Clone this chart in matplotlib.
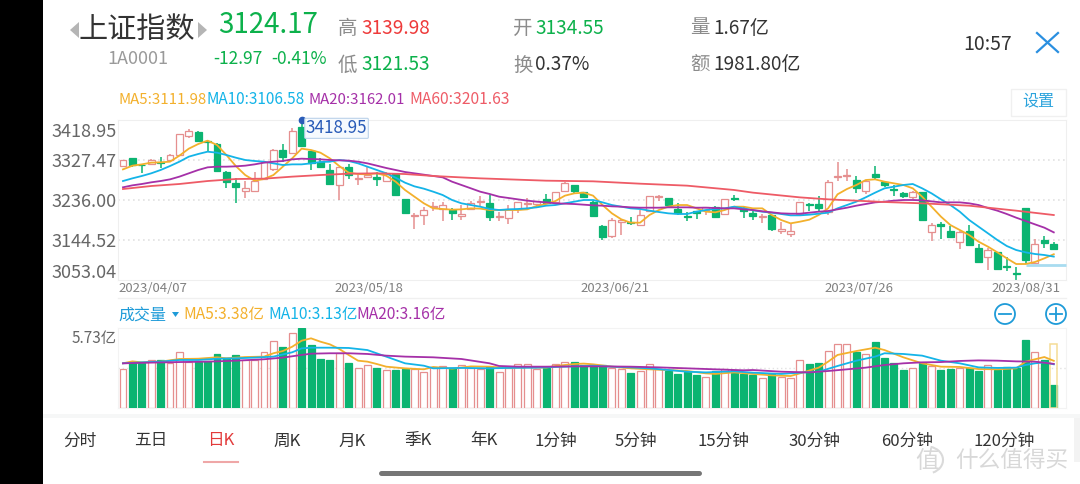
import matplotlib
matplotlib.use("Agg")
import matplotlib.pyplot as plt
from matplotlib.patches import Rectangle, Circle, Arc, Polygon

plt.rcParams['font.family'] = ['Noto Sans CJK SC', 'DejaVu Sans']

# precios, una vela por dia
opens = [3314.5, 3331.3, 3316.8, 3318.3, 3322.1, 3327.5, 3338.9, 3382.3, 3391.5, 3370.9,
         3364.8, 3300.8, 3275.6, 3255.8, 3257.3, 3284.0, 3307.6, 3350.3, 3342.7, 3402.2,
         3347.3, 3322.9, 3303.8, 3271.0, 3310.7, 3284.8, 3288.6, 3287.8, 3280.2, 3295.4,
         3238.3, 3200.2, 3200.9, 3220.7, 3216.2, 3213.1, 3198.6, 3215.4, 3232.2, 3228.4,
         3197.9, 3195.6, 3215.4, 3226.8, 3226.1, 3237.5, 3230.6, 3257.3, 3271.0, 3253.5,
         3230.6, 3177.3, 3153.7, 3185.7, 3184.9, 3179.6, 3211.6, 3242.1, 3239.8, 3215.4,
         3199.4, 3210.1, 3213.9, 3219.2, 3204.0, 3240.6, 3216.2, 3205.5, 3197.9, 3200.9,
         3165.9, 3158.2, 3204.0, 3227.6, 3226.1, 3209.3, 3289.3, 3290.9, 3281.7, 3255.8,
         3295.4, 3276.4, 3261.1, 3251.2, 3242.8, 3253.5, 3162.0, 3180.3, 3165.1, 3139.9,
         3165.1, 3126.2, 3104.9, 3116.3, 3085.1, 3068.3, 3218.4, 3092.7, 3144.5, 3134.55]
closes = [3327.5, 3316.0, 3315.3, 3326.7, 3319.8, 3338.1, 3386.2, 3393.8, 3371.7, 3369.4,
          3302.3, 3277.1, 3265.7, 3264.2, 3279.4, 3322.1, 3350.3, 3335.1, 3394.5, 3359.5,
          3319.8, 3310.7, 3273.3, 3310.7, 3292.4, 3286.3, 3293.1, 3284.8, 3295.4, 3247.4,
          3205.5, 3201.7, 3213.1, 3222.3, 3223.8, 3205.5, 3204.7, 3229.9, 3233.7, 3196.3,
          3199.4, 3214.6, 3230.6, 3229.1, 3233.7, 3229.9, 3253.5, 3274.1, 3257.3, 3242.1,
          3199.4, 3151.4, 3190.3, 3189.5, 3182.6, 3202.4, 3245.1, 3245.9, 3223.8, 3206.3,
          3197.9, 3205.5, 3220.7, 3197.9, 3237.5, 3239.0, 3211.6, 3199.4, 3199.4, 3170.4,
          3168.9, 3164.3, 3232.2, 3223.8, 3217.7, 3276.4, 3291.6, 3292.4, 3262.7, 3280.2,
          3287.8, 3270.3, 3259.6, 3245.1, 3254.3, 3190.3, 3179.6, 3177.3, 3151.4, 3163.6,
          3133.1, 3094.2, 3120.9, 3078.9, 3083.5, 3066.0, 3099.5, 3136.1, 3138.4, 3124.17]
highs = [3327.5, 3331.3, 3316.8, 3329.7, 3333.6, 3340.4, 3386.2, 3397.6, 3393.0, 3370.9,
         3367.1, 3302.3, 3287.0, 3279.4, 3300.0, 3323.6, 3351.8, 3364.0, 3399.9, 3418.95,
         3348.8, 3332.8, 3317.5, 3310.7, 3317.5, 3298.5, 3314.5, 3300.8, 3300.8, 3297.0,
         3238.3, 3207.0, 3220.7, 3232.2, 3230.6, 3216.9, 3224.5, 3233.7, 3245.1, 3246.7,
         3209.3, 3224.5, 3230.6, 3239.8, 3233.7, 3249.0, 3253.5, 3277.9, 3271.0, 3255.0,
         3233.7, 3178.8, 3194.1, 3191.8, 3196.3, 3213.1, 3245.1, 3247.4, 3239.8, 3228.4,
         3207.8, 3211.6, 3220.7, 3223.0, 3237.5, 3246.7, 3220.7, 3211.6, 3204.0, 3200.9,
         3186.4, 3181.1, 3232.2, 3229.9, 3245.9, 3281.7, 3322.1, 3306.1, 3290.9, 3281.7,
         3314.5, 3277.9, 3270.3, 3255.0, 3257.3, 3255.0, 3182.6, 3186.4, 3175.8, 3165.9,
         3178.8, 3134.6, 3125.4, 3117.8, 3106.4, 3083.5, 3218.4, 3146.0, 3152.9, 3139.98]
lows = [3312.2, 3310.7, 3298.5, 3316.0, 3308.4, 3323.6, 3336.6, 3377.0, 3367.9, 3346.5,
        3300.8, 3264.2, 3229.9, 3241.3, 3255.0, 3281.7, 3302.3, 3323.6, 3341.2, 3356.4,
        3304.6, 3308.4, 3270.3, 3236.0, 3283.2, 3270.3, 3285.5, 3268.0, 3277.9, 3245.9,
        3204.0, 3168.9, 3178.8, 3210.8, 3188.0, 3190.3, 3190.3, 3213.1, 3222.3, 3188.7,
        3188.0, 3181.1, 3207.0, 3216.9, 3223.0, 3228.4, 3228.4, 3255.0, 3251.2, 3239.8,
        3197.9, 3144.5, 3148.3, 3155.9, 3178.8, 3178.0, 3209.3, 3234.5, 3223.0, 3201.7,
        3188.7, 3192.5, 3200.9, 3194.1, 3202.4, 3232.9, 3195.6, 3190.3, 3182.6, 3165.9,
        3157.5, 3152.1, 3201.7, 3211.6, 3210.8, 3201.7, 3280.2, 3280.2, 3252.8, 3249.0,
        3284.0, 3266.5, 3245.9, 3239.8, 3237.5, 3190.3, 3142.2, 3146.8, 3150.6, 3123.9,
        3131.6, 3092.7, 3075.9, 3077.4, 3073.6, 3053.04, 3089.6, 3089.6, 3127.0, 3121.53]

ma5 = [3306.0, 3314.5, 3317.5, 3321.4, 3322.1, 3323.6, 3337.4, 3353.4, 3364.0, 3371.7,
       3361.8, 3338.9, 3313.7, 3293.1, 3280.2, 3284.0, 3293.1, 3312.2, 3331.3, 3353.4,
       3350.3, 3344.2, 3331.3, 3313.7, 3298.5, 3295.4, 3294.7, 3297.0, 3291.6, 3277.9,
       3258.8, 3243.6, 3228.4, 3216.9, 3215.4, 3213.9, 3214.6, 3216.9, 3216.2, 3213.1,
       3213.1, 3213.1, 3213.1, 3214.6, 3222.3, 3226.8, 3233.7, 3245.9, 3251.2, 3252.8,
       3245.9, 3224.5, 3205.5, 3191.8, 3184.1, 3184.1, 3201.7, 3213.1, 3220.7, 3224.5,
       3224.5, 3216.9, 3209.3, 3207.8, 3213.1, 3220.7, 3220.7, 3216.9, 3216.9, 3201.7,
       3190.3, 3182.6, 3186.4, 3191.0, 3201.7, 3216.9, 3249.0, 3261.1, 3270.3, 3281.7,
       3283.2, 3277.9, 3274.1, 3270.3, 3262.7, 3243.6, 3220.7, 3197.9, 3178.8, 3167.4,
       3155.9, 3140.7, 3129.3, 3116.3, 3102.6, 3089.6, 3089.6, 3094.2, 3102.6, 3111.98]
ma10 = [3279.4, 3285.5, 3290.9, 3297.0, 3304.6, 3313.7, 3323.6, 3335.1, 3341.2, 3346.5,
        3344.2, 3338.9, 3332.8, 3327.5, 3325.2, 3323.6, 3319.8, 3316.0, 3317.5, 3317.5,
        3319.8, 3322.9, 3323.6, 3327.5, 3325.2, 3319.8, 3312.2, 3304.6, 3297.0, 3287.0,
        3275.6, 3267.2, 3261.9, 3255.0, 3247.4, 3236.0, 3228.4, 3224.5, 3220.7, 3215.4,
        3213.1, 3214.6, 3215.4, 3216.9, 3219.2, 3223.0, 3224.5, 3228.4, 3232.2, 3236.0,
        3236.0, 3230.6, 3224.5, 3220.7, 3216.9, 3215.4, 3211.6, 3208.5, 3205.5, 3204.0,
        3204.0, 3209.3, 3213.1, 3215.4, 3216.9, 3220.7, 3216.9, 3212.4, 3209.3, 3207.0,
        3204.0, 3200.9, 3200.9, 3202.4, 3204.7, 3207.0, 3216.9, 3224.5, 3232.2, 3242.1,
        3252.8, 3262.7, 3266.5, 3270.3, 3272.6, 3262.7, 3251.2, 3237.5, 3224.5, 3209.3,
        3190.3, 3175.0, 3159.8, 3144.5, 3130.8, 3121.6, 3116.3, 3112.5, 3110.2, 3106.58]
ma20 = [3265.0, 3269.5, 3272.6, 3276.4, 3279.4, 3283.2, 3289.4, 3297.0, 3304.6, 3310.7,
        3312.2, 3312.2, 3313.0, 3314.5, 3317.5, 3321.4, 3323.6, 3325.2, 3329.0, 3330.5,
        3329.7, 3329.0, 3327.5, 3326.7, 3326.0, 3323.6, 3319.8, 3314.5, 3309.2, 3304.6,
        3300.0, 3297.0, 3293.9, 3290.9, 3287.8, 3277.9, 3270.3, 3262.7, 3255.0, 3249.7,
        3243.6, 3240.6, 3237.5, 3234.5, 3232.2, 3230.6, 3228.4, 3227.6, 3226.8, 3225.3,
        3223.8, 3223.0, 3221.5, 3220.7, 3219.2, 3218.4, 3218.4, 3218.4, 3219.2, 3219.2,
        3219.2, 3218.4, 3218.4, 3217.7, 3216.9, 3216.9, 3214.6, 3213.1, 3210.1, 3207.8,
        3205.5, 3204.7, 3204.7, 3207.0, 3209.3, 3210.8, 3214.6, 3218.4, 3223.0, 3226.8,
        3230.6, 3232.2, 3234.5, 3236.0, 3236.0, 3235.2, 3232.9, 3230.6, 3230.6, 3230.6,
        3228.4, 3224.5, 3217.7, 3211.6, 3204.0, 3195.6, 3188.0, 3180.3, 3172.7, 3162.01]
ma60_dias = [0, 3, 6, 9, 12, 15, 18, 21, 24, 27, 30, 33, 38, 45, 50, 55, 60, 65, 67, 72, 75, 81, 85, 90, 95, 99]
ma60 = [3261.1, 3268.0, 3272.6, 3279.4, 3284.0, 3284.8, 3289.4, 3293.1, 3296.2, 3297.0, 3295.4, 3290.9, 3285.5,
        3280.2, 3278.7, 3273.3, 3268.8, 3258.9, 3252.8, 3242.0, 3237.5, 3231.4, 3228.4, 3223.0, 3211.6, 3201.63]

# volumen en yi
volumen = [2.82, 3.32, 3.20, 3.41, 3.46, 3.25, 4.03, 3.32, 3.37, 3.39,
           3.84, 3.56, 3.80, 3.44, 3.44, 3.99, 4.82, 4.35, 5.35, 5.73,
           4.51, 3.53, 3.46, 3.92, 3.20, 2.84, 3.08, 2.84, 2.70, 2.75,
           2.79, 2.77, 2.60, 2.96, 3.01, 2.84, 3.10, 2.84, 2.77, 2.96,
           2.55, 2.84, 3.13, 3.13, 2.79, 2.89, 3.13, 3.27, 3.27, 3.08,
           3.08, 3.08, 2.84, 2.77, 2.48, 2.65, 3.13, 2.77, 2.65, 2.44,
           2.55, 2.36, 2.24, 2.67, 2.77, 2.72, 2.44, 2.34, 2.17, 2.44,
           2.24, 2.15, 3.46, 3.15, 3.25, 4.11, 4.56, 4.56, 4.03, 3.84,
           4.70, 3.58, 3.20, 2.70, 2.87, 3.20, 3.03, 2.72, 2.79, 2.89,
           2.84, 2.65, 3.08, 2.70, 2.96, 2.87, 4.85, 3.99, 3.44, 1.67]
vol_prevision = 4.56

vol_ma5_dias = [0, 1, 2, 4, 6, 8, 10, 11, 13, 15, 16, 17, 18, 19, 20, 21, 22, 23, 24, 25, 26, 27, 28, 30, 32, 33, 35,
                37, 39, 41, 43, 45, 46, 47, 48, 49, 50, 52, 54, 56, 58, 60, 62, 63, 65, 67, 69, 71, 72, 74, 75, 76,
                78, 80, 81, 83, 85, 87, 89, 91, 93, 95, 96, 97, 98, 99]
vol_ma5 = [3.20, 3.34, 3.27, 3.32, 3.51, 3.53, 3.63, 3.56, 3.65, 3.68, 3.92, 4.08, 4.39, 4.82, 4.99, 4.75, 4.56, 4.23,
           3.80, 3.39, 3.32, 3.15, 2.96, 2.84, 2.77, 2.94, 2.82, 2.98, 2.96, 2.87, 2.91, 2.89, 3.01, 3.08, 3.15, 3.18,
           3.13, 2.96, 2.84, 2.77, 2.72, 2.65, 2.48, 2.44, 2.55, 2.44, 2.34, 2.29, 2.48, 2.89, 3.32, 3.80,
           4.08, 4.32, 4.15, 3.63, 3.20, 2.96, 2.94, 2.79, 2.77, 2.84, 3.32, 3.49, 3.65, 3.38]
vol_ma10_dias = [0, 2, 4, 6, 8, 10, 12, 14, 16, 18, 19, 20, 22, 24, 26, 28, 30, 32, 33, 36, 39, 41, 44, 47, 50, 52, 54,
                 56, 58, 60, 62, 65, 67, 70, 72, 74, 76, 78, 80, 81, 83, 85, 87, 89, 91, 93, 95, 96, 97, 98, 99]
vol_ma10 = [3.20, 3.27, 3.32, 3.44, 3.44, 3.53, 3.56, 3.61, 3.68, 3.99, 4.27, 4.32, 4.32, 4.30, 4.15, 3.68, 3.20, 3.03,
            2.84, 2.87, 2.84, 2.87, 2.89, 2.96, 3.03, 2.96, 2.91, 2.84, 2.72, 2.60, 2.55, 2.63, 2.53, 2.44, 2.53, 2.60,
            3.01, 3.39, 3.68, 3.92, 3.87, 3.75, 3.39, 3.20, 2.91, 2.87, 2.89, 3.08, 3.20, 3.27, 3.13]
vol_ma20_dias = [0, 3, 6, 9, 12, 15, 17, 19, 20, 22, 24, 26, 28, 30, 33, 36, 39, 40, 42, 45, 48, 51, 54, 57, 60, 63, 66,
                 67, 70, 73, 75, 77, 79, 81, 83, 85, 87, 89, 91, 93, 95, 97, 99]
vol_ma20 = [3.20, 3.25, 3.29, 3.32, 3.39, 3.49, 3.61, 3.80, 3.89, 3.92, 3.92, 3.87, 3.75, 3.68, 3.63, 3.51, 3.20, 3.01,
            2.96, 2.96, 2.98, 2.98, 2.96, 2.91, 2.84, 2.77, 2.70, 2.72, 2.60, 2.55, 2.65, 2.77, 2.89, 3.08, 3.20, 3.27,
            3.29, 3.37, 3.41, 3.39, 3.34, 3.32, 3.16]

precio_ticks = [3327.47, 3236.00, 3144.52]
precio_etiquetas = [(132, "3418.95"), (162, "3327.47"), (202, "3236.00"), (242, "3144.52"), (273, "3053.04")]
fechas = [(118, "2023/04/07"), (334, "2023/05/18"), (580, "2023/06/21"), (824, "2023/07/26"), (991, "2023/08/31")]
pestanas = [(79.5, "分时"), (151, "五日"), (221, "日K"), (287, "周K"), (352, "月K"), (418, "季K"), (484, "年K"),
            (555.5, "1分钟"), (636, "5分钟"), (723, "15分钟"), (814, "30分钟"), (907, "60分钟"), (1004, "120分钟")]

ROJO = "#E58F8F"
VERDE = "#0BB471"
NARANJA = "#F3B02C"
AZUL = "#14B4E8"
MORADO = "#A530A8"
ROSA = "#EE5B66"

W, H = 1080, 484
fig = plt.figure(figsize=(W / 100, H / 100), dpi=100, facecolor="white")


def caja(x0, y0, x1, y1):
    # ejes colocados con coordenadas en pixeles de la imagen
    return fig.add_axes([x0 / W, 1 - y1 / H, (x1 - x0) / W, (y1 - y0) / H])


fondo = fig.add_axes([0, 0, 1, 1])
fondo.set_xlim(0, W)
fondo.set_ylim(H, 0)
fondo.axis("off")


def texto(x, y, s, color="#333333", size=13, ha="left", **kw):
    fondo.text(x, y, s, color=color, fontsize=size, ha=ha, va="center", **kw)


# barra negra de la izquierda
fondo.add_patch(Rectangle((0, 0), 43, H, color="black", lw=0))

# cabecera
fondo.add_patch(Polygon([(70, 30), (79, 22), (79, 38)], color="#B5B5B5", lw=0))
fondo.add_patch(Polygon([(207, 30), (198, 22), (198, 38)], color="#B5B5B5", lw=0))
texto(78, 30, "上证指数", size=21)
texto(107, 59, "1A0001", "#9A9A9A", 13)
texto(218, 25, "3124.17", "#0CB14B", 20)
texto(213, 59, "-12.97", "#0CB14B", 12.5)
texto(271, 59, "-0.41%", "#0CB14B", 12.5)
for x, y, s in [(338, 28, "高"), (338, 65, "低"), (513, 28, "开"), (513, 65, "换"), (690, 28, "量"), (690, 65, "额")]:
    texto(x, y, s, "#8C8C8C", 14)
texto(361, 28, "3139.98", "#EE3A3A", 13.7)
texto(361, 65, "3121.53", "#0CB14B", 13.7)
texto(535, 28, "3134.55", "#0CB14B", 13.7)
texto(535, 65, "0.37%", "#333333", 13.7)
texto(713, 28, "1.67亿", "#333333", 13.7)
texto(713, 65, "1981.80亿", "#333333", 13.7)
texto(963, 44, "10:57", "#333333", 14)
fondo.plot([1037, 1058], [33, 52], color="#2A8FE0", lw=1.6)
fondo.plot([1037, 1058], [52, 33], color="#2A8FE0", lw=1.6)

texto(118, 100, "MA5:3111.98", NARANJA, 10.8)
texto(207, 100, "MA10:3106.58", AZUL, 11)
texto(309, 100, "MA20:3162.01", MORADO, 10.8)
texto(409, 100, "MA60:3201.63", ROSA, 11.3)
fondo.add_patch(Rectangle((1011, 89), 55, 27, fc="white", ec="#F0F0F0", lw=1))
texto(1038.5, 101, "设置", "#2BA3DC", 11.5, ha="center")

for y, s in precio_etiquetas:
    texto(117, y, s, "#666666", 13, ha="right")
for x, s in fechas:
    texto(x, 288, s, "#808080", 9.5)
fondo.plot([118, 1066], [298, 298], color="#F0F0F0", lw=1)

# velas
dias = list(range(len(closes)))
ax = caja(118, 120, 1066, 280)
ax.set_zorder(2)
for s in ax.spines.values():
    s.set_color("#EFEFEF")
ax.patch.set_alpha(0)
ax.set_xlim(-0.53, 100.3)
ax.set_ylim(3053.04, 3418.95)
ax.set_xticks([])
ax.set_yticks(precio_ticks)
ax.tick_params(length=0, labelleft=False)
ax.grid(axis="y", color="#E2E2E2", ls=(0, (1, 2)), lw=1.2)
ax.set_axisbelow(True)

colores = [ROJO if c >= o else VERDE for o, c in zip(opens, closes)]
rellenos = ["white" if c == ROJO else VERDE for c in colores]
ax.vlines(dias, lows, highs, colors=colores, lw=1.1, zorder=2)
ax.bar(dias, [abs(c - o) for o, c in zip(opens, closes)], bottom=[min(o, c) for o, c in zip(opens, closes)],
       width=0.74, color=rellenos, edgecolor=colores, lw=0.9, zorder=3)
ax.plot(dias, ma5, color=NARANJA, lw=1.3, zorder=5)
ax.plot(dias, ma10, color=AZUL, lw=1.3, zorder=5)
ax.plot(dias, ma20, color=MORADO, lw=1.3, zorder=5)
ax.plot(ma60_dias, ma60, color=ROSA, lw=1.3, zorder=5)
ax.hlines(3087, 96, 100.3, color="#A8DCF0", lw=2, zorder=4, clip_on=False)

# maximo marcado
ax.plot([19], [3418.95], "o", ms=4.5, color="#2A5CB8", clip_on=False, zorder=8)
ax.annotate("3418.95", xy=(19, 3418.95), xytext=(3, -6), textcoords="offset points", ha="left", va="center",
            color="#2A5CB8", fontsize=12.3, zorder=9, annotation_clip=False,
            bbox=dict(boxstyle="round,pad=0.06", fc="#F6FAFE", ec="#BBD2EA", lw=0.8))

# volumen
texto(118, 315, "成交量", "#1E9BD8", 11.5)
fondo.add_patch(Polygon([(172, 312), (179, 312), (175.5, 317)], color="#1E9BD8", lw=0))
texto(183, 315, "MA5:3.38亿", NARANJA, 11.2)
texto(268, 315, "MA10:3.13亿", AZUL, 11.2)
texto(356, 315, "MA20:3.16亿", MORADO, 11.2)
texto(117, 339, "5.73亿", "#666666", 11, ha="right")
for cx in (1005, 1056):
    fondo.add_patch(Circle((cx, 314), 10, fc="none", ec="#1E9BD8", lw=1.3))
    fondo.plot([cx - 6, cx + 6], [314, 314], color="#1E9BD8", lw=1.3)
fondo.plot([1056, 1056], [308, 320], color="#1E9BD8", lw=1.3)

av = caja(118, 328, 1066, 408)
for s in av.spines.values():
    s.set_color("#F3F3F3")
av.patch.set_alpha(0)
av.set_zorder(2)
av.set_xlim(-0.53, 100.3)
av.set_ylim(0, 5.73)
av.set_xticks([])
av.set_yticks([2.865])
av.tick_params(length=0, labelleft=False)
av.grid(axis="y", color="#E2E2E2", ls=(0, (1, 2)), lw=1)
av.set_axisbelow(True)
av.bar(dias, volumen, width=0.74, color=rellenos, edgecolor=colores, lw=0.9, zorder=3)
av.bar(dias[-1], vol_prevision, width=0.74, fc="none", ec="#F5DC96", lw=1.1, zorder=3)
av.plot(vol_ma5_dias, vol_ma5, color=NARANJA, lw=1.3, zorder=5)
av.plot(vol_ma10_dias, vol_ma10, color=AZUL, lw=1.3, zorder=5)
av.plot(vol_ma20_dias, vol_ma20, color=MORADO, lw=1.3, zorder=5)

# pestanas de abajo
fondo.add_patch(Rectangle((43, 414), W - 43, 4, color="#F6F7F7", lw=0))
fondo.add_patch(Rectangle((1074, 418), 6, 44, color="#F3F3F3", lw=0))
for x, s in pestanas:
    texto(x, 441, s, "#E23B3B" if s == "日K" else "#333333", 12, ha="center")
fondo.plot([204, 238], [462, 462], color="#EFA7A7", lw=1.5)
fondo.plot([381, 699], [473, 473], color="#767676", lw=3.6, solid_capstyle="round")

# marca de agua, tapa la parte baja del texto 60分钟
fondo.add_patch(Rectangle((912, 446), 36, 28, fc="white", lw=0, zorder=3.5))
fondo.add_patch(Arc((927, 460), 32, 27, theta1=-75, theta2=65, ec="#DADADA", lw=1.5, zorder=4))
fondo.text(927, 461, "值", color="#D8D8D8", fontsize=17, ha="center", va="center", zorder=4)
fondo.text(955, 460, "什么值得买", color="#D8D8D8", fontsize=16.3, ha="left", va="center", zorder=4)

fig.savefig("out.png", dpi=100)
